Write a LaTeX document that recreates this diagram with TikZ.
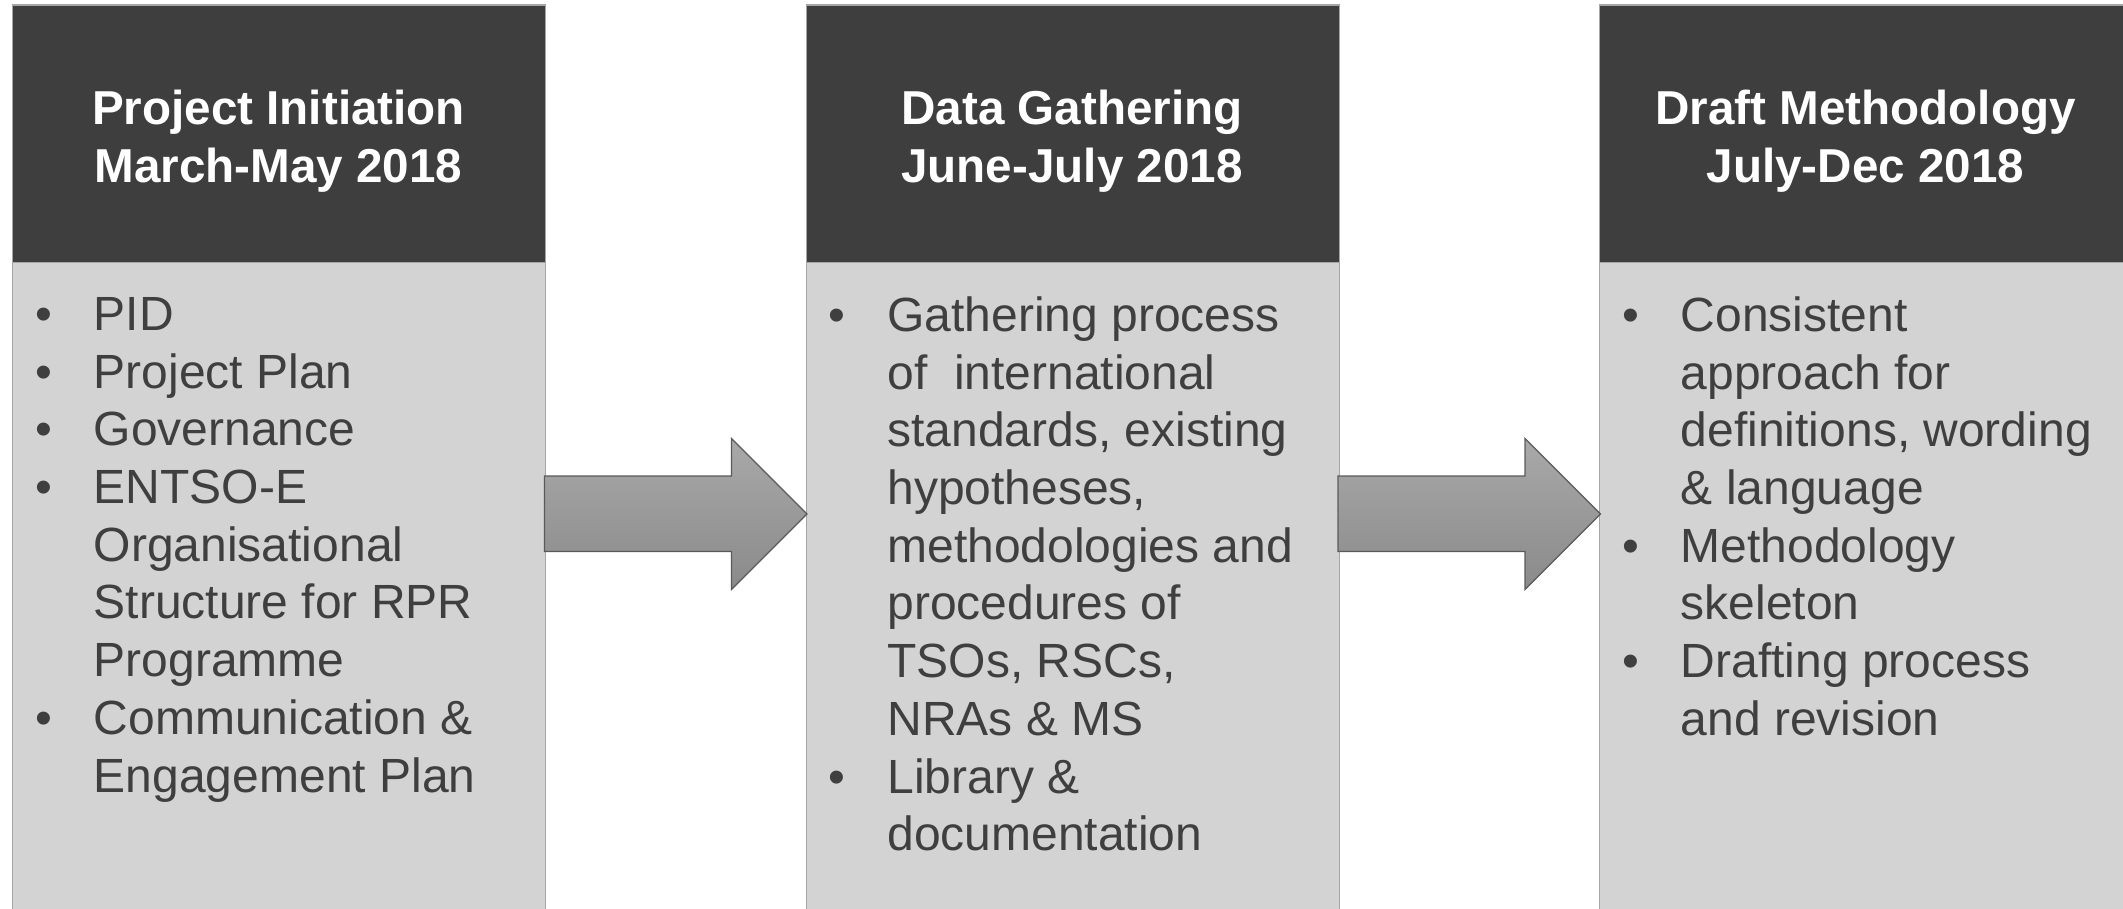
\documentclass[tikz,border=0pt]{standalone}
\usepackage{fontspec}
\setmainfont{Liberation Sans}
\definecolor{hdr}{HTML}{3E3E3E}
\definecolor{bdy}{HTML}{D3D3D3}
\definecolor{edgegray}{HTML}{A6A6A6}
\definecolor{txt}{HTML}{3F3F3F}
\definecolor{arrtop}{HTML}{A9A9A9}
\definecolor{arrbot}{HTML}{8A8A8A}
\definecolor{arredge}{HTML}{5A5A5A}
\newcommand{\blt}{\textbullet}
\tikzset{
  hdrbox/.style={fill=hdr,draw=edgegray,line width=1.2pt,inner sep=0pt,anchor=north west,minimum width=533pt,minimum height=257.5pt},
  bdybox/.style={fill=bdy,draw=edgegray,line width=1.2pt,inner sep=0pt,anchor=north west,minimum width=533pt,minimum height=660pt},
  hdrtext/.style={text=white,font=\fontsize{47.6}{57.8}\selectfont\bfseries,inner sep=0pt,anchor=base},
  bodytext/.style={text=txt,font=\fontsize{48}{57.7}\selectfont,inner sep=0pt,anchor=base west},
  blockarrow/.style={top color=arrtop,bottom color=arrbot,draw=arredge,line width=1.2pt,line join=miter},
  fatarrow/.pic={
    \draw[blockarrow] (0,-38) -- (187,-38) -- (187,-75.5) -- (262.5,0) -- (187,75.5) -- (187,37.5) -- (0,37.5) -- cycle;
  }
}
\begin{document}
\begin{tikzpicture}[x=1pt,y=-1pt]
\path[use as bounding box] (0,0) rectangle (2123,909);
% boxes
\node[hdrbox] (h1) at (12,4.5) {};
\node[bdybox] (b1) at (12,262) {};
\node[hdrbox] (h2) at (805.5,4.5) {};
\node[bdybox] (b2) at (805.5,262) {};
\node[hdrbox] (h3) at (1599,4.5) {};
\node[bdybox] (b3) at (1599,262) {};
% headers
\node[hdrtext] (t1) at (278.5,125) {\begin{tabular}[t]{@{}c@{}}Project Initiation\\March-May 2018\end{tabular}};
\node[hdrtext] (t2) at (1072,125) {\begin{tabular}[t]{@{}c@{}}Data Gathering\\June-July 2018\end{tabular}};
\node[hdrtext] (t3) at (1865.5,125) {\begin{tabular}[t]{@{}c@{}}Draft Methodology\\July-Dec 2018\end{tabular}};
% bodies
\node[bodytext] (l1) at (35.1,330.5) {\begin{tabular}[t]{@{}p{58.6pt}@{}l@{}}
\blt & PID\\
\blt & Project Plan\\
\blt & Governance\\
\blt & ENTSO-E\\
 & Organisational\\
 & Structure for RPR\\
 & Programme\\
\blt & Communication \&\\
 & Engagement Plan
\end{tabular}};
\node[bodytext] (l2) at (828.6,331.5) {\begin{tabular}[t]{@{}p{58.6pt}@{}l@{}}
\blt & Gathering process\\
 & of\ \ international\\
 & standards, existing\\
 & hypotheses,\\
 & methodologies and\\
 & procedures of\\
 & TSOs, RSCs,\\
 & NRAs \& MS\\
\blt & Library \&\\
 & documentation
\end{tabular}};
\node[bodytext] (l3) at (1622.1,331.5) {\begin{tabular}[t]{@{}p{58.6pt}@{}l@{}}
\blt & Consistent\\
 & approach for\\
 & definitions, wording\\
 & \& language\\
\blt & Methodology\\
 & skeleton\\
\blt & Drafting process\\
 & and revision
\end{tabular}};
% arrows
\pic at (544.5,514) {fatarrow};
\pic at (1338,514) {fatarrow};
\end{tikzpicture}
\end{document}
